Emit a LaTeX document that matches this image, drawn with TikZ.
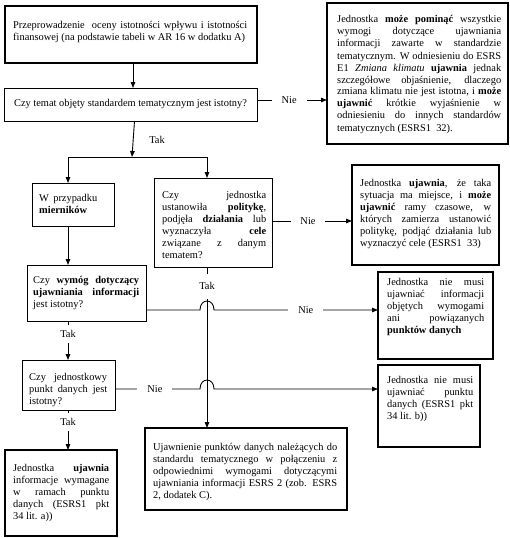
\documentclass[tikz,border=0pt]{standalone}
\usepackage{fontspec}
\setmainfont{Liberation Serif}
\usetikzlibrary{arrows.meta}
\newcommand\dfont{\fontsize{10.4pt}{12pt}\selectfont}
\hyphenpenalty=10000 \exhyphenpenalty=10000 \tolerance=10000
\begin{document}
\begin{tikzpicture}[x=1pt,y=-1pt,
  thickbox/.style={draw, line width=2.6pt, inner sep=0pt, outer sep=0pt, anchor=north west},
  thinbox/.style={draw, line width=1pt, inner sep=0pt, outer sep=0pt, anchor=north west},
  txt/.style={inner sep=0pt, anchor=base west, align=justify, font=\dfont},
  conn/.style={line width=0.9pt},
  arr/.style={conn, -{Triangle[length=6pt,width=4.5pt]}},
  lblh/.style={fill=white, inner xsep=10pt, inner ysep=1pt, font=\dfont},
  lblv/.style={fill=white, inner xsep=1pt, inner ysep=5pt, font=\dfont},
]
\useasboundingbox (0,0) rectangle (510,538);

% boxes
\node[thickbox, minimum width=252pt, minimum height=57pt] (b1) at (5,6) {};
\node[thinbox, minimum width=253pt, minimum height=33pt, font=\dfont] (b2) at (4,88) {Czy temat objęty standardem tematycznym jest istotny?};
\node[thickbox, minimum width=181pt, minimum height=141pt] (b3) at (327,3) {};
\node[thinbox, minimum width=82pt, minimum height=43pt] (wp) at (32,183) {};
\node[thinbox, minimum width=118pt, minimum height=89pt] (cj) at (154,178) {};
\node[thickbox, minimum width=147pt, minimum height=100pt] (b4) at (352,165) {};
\node[thinbox, minimum width=119pt, minimum height=56pt] (cw) at (27,265) {};
\node[thickbox, minimum width=115pt, minimum height=87pt] (nm1) at (378,272) {};
\node[thinbox, minimum width=93pt, minimum height=50pt] (cd) at (22,360) {};
\node[thickbox, minimum width=102pt, minimum height=82pt] (nm2) at (378,365) {};
\node[thickbox, minimum width=202pt, minimum height=82pt] (uj) at (145,428) {};
\node[thickbox, minimum width=112pt, minimum height=86pt] (ju) at (5,450) {};

% texts
\node[txt, text width=234pt] (t1) at (13,28) {Przeprowadzenie\ \ oceny istotności wpływu i istotności\linebreak finansowej (na podstawie tabeli w AR 16 w dodatku A)};
\node[txt, text width=164pt] (t3) at (337,23) {Jednostka \textbf{może pominąć} wszystkie\linebreak wymogi dotyczące ujawniania\linebreak informacji zawarte w standardzie\linebreak tematycznym. W odniesieniu do ESRS\linebreak E1 \textit{Zmiana klimatu} \textbf{ujawnia} jednak\linebreak szczegółowe objaśnienie, dlaczego\linebreak zmiana klimatu nie jest istotna, i \textbf{może}\linebreak \textbf{ujawnić} krótkie wyjaśnienie w\linebreak odniesieniu do innych standardów\linebreak tematycznych (ESRS1\ \ 32).};
\node[txt, text width=58pt] (twp) at (39,201) {W przypadku\linebreak \textbf{mierników}};
\node[txt, text width=104pt] (tcj) at (162,198) {Czy jednostka\linebreak ustanowiła \textbf{politykę},\linebreak podjęła \textbf{działania} lub\linebreak wyznaczyła \textbf{cele}\linebreak związane z danym\linebreak tematem?};
\node[txt, text width=131pt] (t4) at (360,186) {Jednostka \textbf{ujawnia}, że taka\linebreak sytuacja ma miejsce, i \textbf{może}\linebreak \textbf{ujawnić} ramy czasowe, w\linebreak których zamierza ustanowić\linebreak politykę, podjąć działania lub\linebreak wyznaczyć cele (ESRS1\ \ 33)};
\node[txt, text width=106pt] (tcw) at (33,283) {Czy \textbf{wymóg dotyczący}\linebreak \textbf{ujawniania informacji}\linebreak jest istotny?};
\node[txt, text width=97pt] (tnm1) at (387,285) {Jednostka nie musi\linebreak ujawniać informacji\linebreak objętych wymogami\linebreak ani powiązanych\linebreak \textbf{punktów danych}};
\node[txt, text width=78pt] (tcd) at (29,380) {Czy jednostkowy\linebreak punkt danych jest\linebreak istotny?};
\node[txt, text width=86pt] (tnm2) at (387,383) {Jednostka nie musi\linebreak ujawniać punktu\linebreak danych (ESRS1 pkt\linebreak 34 lit. b))};
\node[txt, text width=184pt] (tuj) at (153,450) {Ujawnienie punktów danych należących do\linebreak standardu tematycznego w połączeniu z\linebreak odpowiednimi wymogami dotyczącymi\linebreak ujawniania informacji ESRS 2 (zob. ESRS\linebreak 2, dodatek C).};
\node[txt, text width=96pt] (tju) at (13,471) {Jednostka \textbf{ujawnia}\linebreak informacje wymagane\linebreak w ramach punktu\linebreak danych (ESRS1 pkt\linebreak 34 lit. a))};

% helper coordinates
\coordinate (xa) at (133,0);
\coordinate (ya) at (0,100);
\coordinate (sp) at (132,157);
\coordinate (sl) at (68,157);
\coordinate (sr) at (207,157);
\coordinate (yb) at (0,221);
\coordinate (yc) at (0,310);
\coordinate (yd) at (0,389);
\coordinate (h1a) at (200,310);
\coordinate (h1b) at (214,310);
\coordinate (h1c) at (200,298);
\coordinate (h1d) at (214,298);
\coordinate (h2a) at (200,389);
\coordinate (h2b) at (214,389);
\coordinate (h2c) at (200,377);
\coordinate (h2d) at (214,377);

% connectors
\draw[arr] (b1.south -| xa) -- (b2.north -| xa);
\draw[arr] (b2.east |- ya) -- node[lblh, pos=0.46] (n1) {Nie} (b3.west |- ya);
\draw[arr] ([xshift=4pt]b2.south) -- (sp);
\node[font=\dfont] (tak1) at (157,140) {Tak};
\draw[conn] (sl) -- (sr);
\draw[arr] (sl) -- (sl |- wp.north);
\draw[arr] (sr) -- (sr |- cj.north);
\draw[arr] (sl |- wp.south) -- (sl |- cw.north);
\draw[arr] (cj.east |- yb) -- node[lblh, inner xsep=9pt, pos=0.45] (n2) {Nie} (b4.west |- yb);
\draw[arr] (cj.south -| sr) -- node[lblv, inner ysep=9pt, pos=0.12] (t2) {Tak} (uj.north -| sr);
\draw[arr] (cw.east |- yc) -- (h1a) .. controls (h1c) and (h1d) .. (h1b) -- node[lblh, pos=0.56] (n3) {Nie} (nm1.west |- yc);
\draw[arr] (cw.south -| sl) -- node[lblv, pos=0.33] (t3l) {Tak} (cd.north -| sl);
\draw[arr] (cd.east |- yd) -- node[lblh, pos=0.47] (n4) {Nie} (h2a) .. controls (h2c) and (h2d) .. (h2b) -- (nm2.west |- yd);
\draw[arr] (cd.south -| sl) -- node[lblv, pos=0.3] (t4l) {Tak} (ju.north -| sl);
\end{tikzpicture}
\end{document}
